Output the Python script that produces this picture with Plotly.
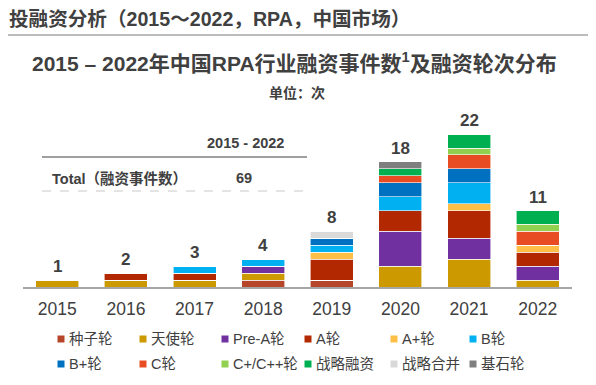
import plotly.graph_objects as go

years = ["2015", "2016", "2017", "2018", "2019", "2020", "2021", "2022"]

seed      = [0, 0, 0, 1, 1, 0, 0, 0]
angel     = [1, 1, 1, 1, 0, 3, 4, 1]
pre_a     = [0, 0, 0, 1, 0, 5, 3, 2]
round_a   = [0, 1, 1, 0, 3, 3, 4, 2]
a_plus    = [0, 0, 0, 0, 1, 0, 1, 1]
round_b   = [0, 0, 1, 1, 1, 2, 3, 0]
b_plus    = [0, 0, 0, 0, 1, 2, 2, 0]
round_c   = [0, 0, 0, 0, 0, 1, 2, 2]
c_plus    = [0, 0, 0, 0, 0, 0, 1, 1]
strat_fin = [0, 0, 0, 0, 0, 1, 2, 2]
strat_mer = [0, 0, 0, 0, 1, 0, 0, 0]
cornerstone = [0, 0, 0, 0, 0, 1, 0, 0]

totals = [1, 2, 3, 4, 8, 18, 22, 11]

series_names = ["种子轮", "天使轮", "Pre-A轮", "A轮", "A+轮", "B轮",
                "B+轮", "C轮", "C+/C++轮", "战略融资", "战略合并", "基石轮"]
series_values = [seed, angel, pre_a, round_a, a_plus, round_b,
                 b_plus, round_c, c_plus, strat_fin, strat_mer, cornerstone]
series_colors = ["#B5462A", "#CC9900", "#7030A0", "#B22800", "#FFBF47", "#00B0F0",
                 "#0070C0", "#E84C22", "#92D050", "#00B050", "#D9D9D9", "#7F7F7F"]

header = "投融资分析（2015～2022，RPA，中国市场）"
chart_title = "2015 – 2022年中国RPA行业融资事件数<sup>1</sup>及融资轮次分布"
unit_text = "单位：次"
table_period = "2015 - 2022"
table_label = "Total（融资事件数）"
table_total = "69"

FONT = "Liberation Sans, Arial, Noto Sans CJK SC, sans-serif"
TXT = "#404040"

# page body has an 8px margin; figure is sized to fill the rest of the window
OFF = 8
W, H = 588, 377
ML, MR, MT, MB = 15, 24, 92, 98
pw, ph = W - ML - MR, H - MT - MB

def px(x):
    return (x - OFF - ML) / pw

def py(y):
    return (H - MB - (y - OFF)) / ph

fig = go.Figure()
for name, vals, col in zip(series_names, series_values, series_colors):
    fig.add_trace(go.Bar(
        x=years, y=vals, name=name,
        marker_color=col,
        marker_line=dict(width=0.6, color="white"),
        showlegend=False,
    ))

for i, tot in enumerate(totals):
    fig.add_annotation(x=i, y=tot, text=f"<b>{tot}</b>", showarrow=False,
                       xref="x", yref="y", yanchor="bottom", yshift=2,
                       font=dict(size=17, color=TXT, family=FONT))

def ptext(text, x, y, size, xanchor="center", bold=True):
    fig.add_annotation(xref="paper", yref="paper", x=px(x), y=py(y),
                       text=f"<b>{text}</b>" if bold else text,
                       showarrow=False, xanchor=xanchor, yanchor="middle",
                       font=dict(size=size, color=TXT, family=FONT))

ptext(header, 7, 19, 19.6, "left")
ptext(chart_title, 294, 62, 21)
ptext(unit_text, 297, 93, 14)
ptext(table_period, 245, 143, 14.5)
ptext(table_label, 50, 178, 14.5, "left")
ptext(table_total, 244, 178, 14.5)

fig.add_shape(type="line", xref="paper", yref="paper", x0=px(8), x1=px(596), y0=py(35), y1=py(35),
              line=dict(color="#A6A6A6", width=1.5))
fig.add_shape(type="line", xref="paper", yref="paper", x0=px(42), x1=px(307), y0=py(157), y1=py(157),
              line=dict(color="#7F7F7F", width=1.5))
fig.add_shape(type="line", xref="paper", yref="paper", x0=px(42), x1=px(307), y0=py(191), y1=py(191),
              line=dict(color="#C8C8C8", width=1, dash="dash"))

# legend: two rows of six swatches with labels
leg_cols = [61, 143, 225, 308, 394, 473]
leg_rows = [339, 364]
for k, (name, col) in enumerate(zip(series_names, series_colors)):
    cx = leg_cols[k % 6]
    cy = leg_rows[k // 6]
    fig.add_shape(type="rect", xref="paper", yref="paper",
                  x0=px(cx - 3.5), x1=px(cx + 3.5), y0=py(cy + 3.5), y1=py(cy - 3.5),
                  fillcolor=col, line=dict(width=0))
    ptext(name, cx + 6, cy, 14.5, "left", bold=False)

fig.update_layout(
    barmode="stack",
    bargap=0.373,
    width=W, height=H,
    margin=dict(l=ML, r=MR, t=MT, b=MB, autoexpand=False),
    plot_bgcolor="white", paper_bgcolor="white",
    font=dict(family=FONT, color=TXT),
    showlegend=False,
    xaxis=dict(type="category", range=[-0.5, 7.5], showline=True, linecolor="#A6A6A6",
               linewidth=2, showgrid=False, zeroline=False,
               tickfont=dict(size=17.5, color=TXT), ticks="outside", ticklen=5,
               tickcolor="rgba(0,0,0,0)"),
    yaxis=dict(visible=False, range=[0, (H - MT - MB) / 6.95], showgrid=False, zeroline=False),
)

fig.write_html("out.html")
